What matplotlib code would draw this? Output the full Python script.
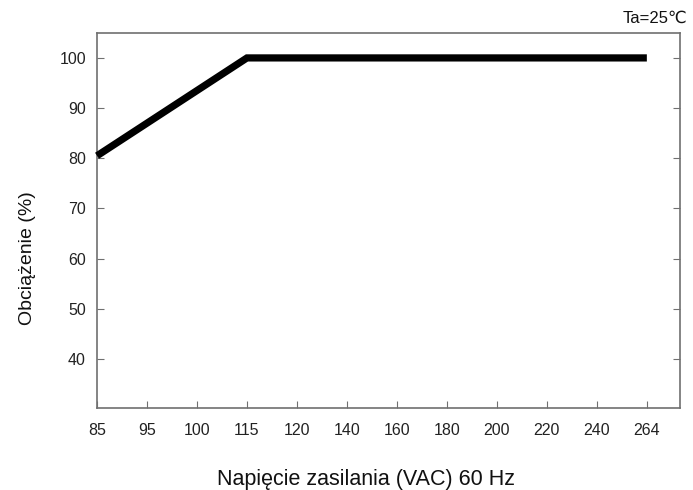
import matplotlib
matplotlib.use('Agg')
import matplotlib.pyplot as plt

plt.rcParams['font.family'] = ['Liberation Sans', 'DejaVu Sans']

# categorical x axis (equal spacing)
x_labels = ['85', '95', '100', '115', '120', '140', '160', '180', '200', '220', '240', '264']
y_ticks = [40, 50, 60, 70, 80, 90, 100]

# load curve: voltage category -> load %
curve_x = ['85', '115', '264']
curve_y = [80.5, 100, 100]

xpos = {lab: i for i, lab in enumerate(x_labels)}

fig = plt.figure(figsize=(6.93, 4.9), dpi=100, facecolor='w')
ax = fig.add_axes([0.140, 0.167, 0.841, 0.766])

ax.plot([xpos[v] for v in curve_x], curve_y, color='black', lw=5.2,
        solid_capstyle='butt', solid_joinstyle='miter', clip_on=False, zorder=3)

ax.set_xlim(0, 11.66)
ax.set_ylim(30.2, 105)
ax.set_xticks(range(len(x_labels)))
ax.set_xticklabels(x_labels)
ax.set_yticks(y_ticks)

spine_c = '#707070'
for s in ax.spines.values():
    s.set_color(spine_c)
    s.set_linewidth(1.2)

ax.tick_params(axis='x', direction='in', length=5, color=spine_c, labelsize=11.5,
               labelcolor='#222222', pad=11)
ax.tick_params(axis='y', direction='in', length=5, color=spine_c, labelsize=11.5,
               labelcolor='#222222', right=True, pad=8)

fig.text(0.991, 0.962, 'Ta=25℃', ha='right', va='center', fontsize=12,
         color='#111111')
fig.text(0.528, 0.011, 'Napięcie zasilania (VAC) 60 Hz', ha='center', va='baseline',
         fontsize=15.5, color='#111111')
fig.text(0.040, 0.473, 'Obciążenie (%)', rotation=90, ha='center', va='center',
         fontsize=14, color='#111111')

fig.savefig('out.png', dpi=100)
